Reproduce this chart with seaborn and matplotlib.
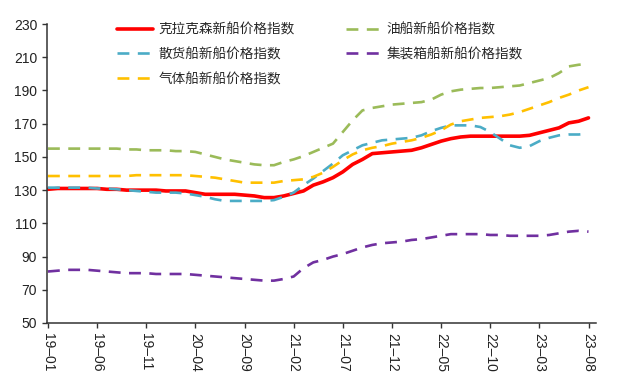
import numpy as np
import pandas as pd
import matplotlib
matplotlib.use("Agg")
import matplotlib.pyplot as plt
import seaborn as sns

# monthly, 2019-01 .. 2023-08
months = pd.period_range("2019-01", "2023-08", freq="M")
month_labels = [p.strftime("%y–%m") for p in months]

clarksons = [130.5, 131, 131, 131, 131, 131, 130.5, 130.5, 130, 130, 130, 130,
             129.5, 129.5, 129.5, 128.5, 127.5, 127.5, 127.5, 127.5, 127, 126.5, 125.5, 125.5,
             126.5, 128, 129.5, 133, 135, 137.5, 141, 145.5, 148.5, 152, 152.5, 153,
             153.5, 154, 155.5, 157.5, 159.5, 161, 162, 162.5, 162.5, 162.5, 162.5, 162.5,
             162.5, 163, 164.5, 166, 167.5, 170.5, 171.5, 173.5]
tanker = [155, 155, 155, 155, 155, 155, 155, 155, 154.5, 154.5, 154, 154,
          154, 153.5, 153.5, 153, 151.5, 150, 148.5, 147.5, 146.5, 145.5, 145, 145,
          147, 148.5, 150.5, 153, 155.5, 158, 165, 172, 178, 179.5, 180.5, 181.5,
          182, 182.5, 183, 184.5, 187.5, 189.5, 190.5, 191, 191.5, 191.5, 192, 192.5,
          193, 194.5, 196, 197.5, 200.5, 204.5, 205.5, 206]
bulker = [131.5, 131.5, 131.5, 131.5, 131.5, 131, 131, 130.5, 130, 129.5, 129, 128.5,
          128.5, 128.5, 128, 127, 126, 124.5, 123.5, 123.5, 123.5, 123.5, 123.5, 124,
          126, 128.5, 133, 137, 141.5, 146, 151, 154, 157, 158.5, 160, 160.5,
          161, 161.5, 163, 165.5, 167.5, 169, 169, 169, 168, 165, 161, 157,
          155.5, 156.5, 159.5, 161.5, 163, 163.5, 163.5, 164]
container = [81, 81.5, 82, 82, 82, 81.5, 81, 80.5, 80, 80, 80, 79.5,
             79.5, 79.5, 79.5, 79, 78.5, 78, 77.5, 77, 76.5, 76, 75.5, 75.5,
             76.5, 78, 83, 86.5, 88, 90, 91.5, 93.5, 95.5, 97, 98, 98.5,
             99, 100, 100.5, 101.5, 102.5, 103.5, 103.5, 103.5, 103.5, 103, 103, 102.5,
             102.5, 102.5, 102.5, 103, 104, 105, 105.5, 105]
gas = [138.5, 138.5, 138.5, 138.5, 138.5, 138.5, 138.5, 138.5, 138.5, 139, 139, 139,
       139, 139, 139, 138.5, 138, 137.5, 136.5, 135.5, 134.5, 134.5, 134.5, 134.5,
       135.5, 136, 136.5, 138, 140.5, 144, 148, 151.5, 154, 155.5, 156.5, 158,
       159, 160, 161.5, 163.5, 166, 169.5, 171.5, 172.5, 173.5, 174, 174.5, 175.5,
       177, 179, 181, 183, 185.5, 187.5, 190, 192]

series = [
    ("克拉克森新船价格指数", clarksons, "#FF0000", "-"),
    ("散货船新船价格指数", bulker, "#4BACC6", (0, (4.5, 3.2))),
    ("气体船新船价格指数", gas, "#FFC000", (0, (4.5, 3.2))),
    ("油船新船价格指数", tanker, "#9BBB59", (0, (4.5, 3.2))),
    ("集装箱船新船价格指数", container, "#7030A0", (0, (4.5, 3.2))),
]

sns.set_style("ticks")
plt.rcParams["font.family"] = ["Liberation Sans", "Noto Sans CJK SC", "DejaVu Sans"]

fig = plt.figure(figsize=(6.18, 3.76), dpi=100)
ax = fig.add_axes([0.076, 0.141, 0.889, 0.795])

x = np.arange(len(months))
for name, vals, color, ls in series:
    lw = 2.6 if ls == "-" else 1.9
    sns.lineplot(x=x, y=vals, ax=ax, color=color, linewidth=lw, linestyle=ls, label=name)

ax.set_xlim(-0.1, 55.8)
ax.set_ylim(50, 230)
ax.set_yticks(range(50, 231, 20))
ax.set_xticks(x[::5])
ax.set_xticklabels(month_labels[::5], rotation=270)
ax.tick_params(axis="both", labelsize=10, length=3.5, width=1, color="#333333", labelcolor="#222222")
for s in ["top", "right"]:
    ax.spines[s].set_visible(False)
for s in ["left", "bottom"]:
    ax.spines[s].set_linewidth(1.1)
    ax.spines[s].set_color("#333333")

leg = ax.legend(ncol=2, loc="upper left", bbox_to_anchor=(0.106, 1.047), frameon=False,
                fontsize=9.8, handlelength=2.6, labelspacing=0.8, columnspacing=3.75,
                handletextpad=0.4)

fig.savefig("out.png", dpi=100)
